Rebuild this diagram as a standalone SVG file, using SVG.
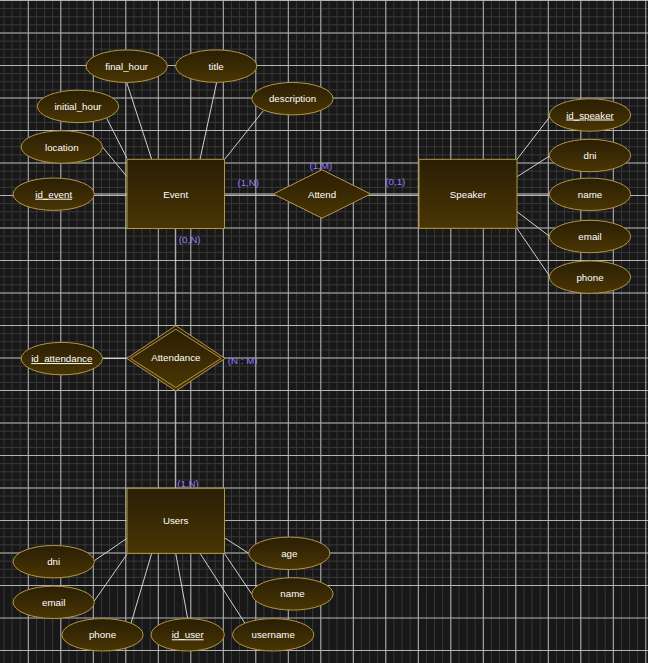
<svg xmlns="http://www.w3.org/2000/svg" width="648" height="663" viewBox="0 0 648 663">
<defs>
<linearGradient id="g" x1="0" y1="0" x2="0" y2="1">
<stop offset="0" stop-color="#2a1e04"/>
<stop offset="1" stop-color="#4a3604"/>
</linearGradient>
<style>
.sh{fill:url(#g);stroke:#b39545;stroke-width:1}
.t{font-family:"Liberation Sans",Arial,sans-serif;font-size:9.75px;fill:#ffffff;text-anchor:middle}
.u{text-decoration:underline}
.c{font-family:"Liberation Sans",Arial,sans-serif;font-size:9.75px;fill:#9b7bff;text-anchor:middle}
.e{stroke:#d0d0d0;stroke-width:1;fill:none}
</style>
</defs>
<rect width="648" height="663" fill="#181818"/>
<g id="grid" fill="none">
<path stroke="#383838" stroke-width="1" d="M3.925 0v663m8.125-663v663m8.125-663v663m8.125-663v663m8.125-663v663m8.125-663v663m8.125-663v663m8.125-663v663m8.125-663v663m8.125-663v663m8.125-663v663m8.125-663v663m8.125-663v663m8.125-663v663m8.125-663v663m8.125-663v663m8.125-663v663m8.125-663v663m8.125-663v663m8.125-663v663m8.125-663v663m8.125-663v663m8.125-663v663m8.125-663v663m8.125-663v663m8.125-663v663m8.125-663v663m8.125-663v663m8.125-663v663m8.125-663v663m8.125-663v663m8.125-663v663m8.125-663v663m8.125-663v663m8.125-663v663m8.125-663v663m8.125-663v663m8.125-663v663m8.125-663v663m8.125-663v663m8.125-663v663m8.125-663v663m8.125-663v663m8.125-663v663m8.125-663v663m8.125-663v663m8.125-663v663m8.125-663v663m8.125-663v663m8.125-663v663m8.125-663v663m8.125-663v663m8.125-663v663m8.125-663v663m8.125-663v663m8.125-663v663m8.125-663v663m8.125-663v663m8.125-663v663m8.125-663v663m8.125-663v663m8.125-663v663m8.125-663v663m8.125-663v663m8.125-663v663m8.125-663v663m8.125-663v663m8.125-663v663m8.125-663v663m8.125-663v663m8.125-663v663m8.125-663v663m8.125-663v663m8.125-663v663m8.125-663v663m8.125-663v663m8.125-663v663m8.125-663v663m8.125-663v663M0 0.5h648m-648 8.125h648m-648 8.125h648m-648 8.125h648m-648 8.125h648m-648 8.125h648m-648 8.125h648m-648 8.125h648m-648 8.125h648m-648 8.125h648m-648 8.125h648m-648 8.125h648m-648 8.125h648m-648 8.125h648m-648 8.125h648m-648 8.125h648m-648 8.125h648m-648 8.125h648m-648 8.125h648m-648 8.125h648m-648 8.125h648m-648 8.125h648m-648 8.125h648m-648 8.125h648m-648 8.125h648m-648 8.125h648m-648 8.125h648m-648 8.125h648m-648 8.125h648m-648 8.125h648m-648 8.125h648m-648 8.125h648m-648 8.125h648m-648 8.125h648m-648 8.125h648m-648 8.125h648m-648 8.125h648m-648 8.125h648m-648 8.125h648m-648 8.125h648m-648 8.125h648m-648 8.125h648m-648 8.125h648m-648 8.125h648m-648 8.125h648m-648 8.125h648m-648 8.125h648m-648 8.125h648m-648 8.125h648m-648 8.125h648m-648 8.125h648m-648 8.125h648m-648 8.125h648m-648 8.125h648m-648 8.125h648m-648 8.125h648m-648 8.125h648m-648 8.125h648m-648 8.125h648m-648 8.125h648m-648 8.125h648m-648 8.125h648m-648 8.125h648m-648 8.125h648m-648 8.125h648m-648 8.125h648m-648 8.125h648m-648 8.125h648m-648 8.125h648m-648 8.125h648m-648 8.125h648m-648 8.125h648m-648 8.125h648"/>
<path stroke="#b4b4b4" stroke-width="1" d="M28.3 0v663m32.5-663v663m32.5-663v663m32.5-663v663m32.5-663v663m32.5-663v663m32.5-663v663m32.5-663v663m32.5-663v663m32.5-663v663m32.5-663v663m32.5-663v663m32.5-663v663m32.5-663v663m32.5-663v663m32.5-663v663m32.5-663v663m32.5-663v663m32.5-663v663m32.5-663v663M0 0.5h648m-648 32.5h648m-648 32.5h648m-648 32.5h648m-648 32.5h648m-648 32.5h648m-648 32.5h648m-648 32.5h648m-648 32.5h648m-648 32.5h648m-648 32.5h648m-648 32.5h648m-648 32.5h648m-648 32.5h648m-648 32.5h648m-648 32.5h648m-648 32.5h648m-648 32.5h648m-648 32.5h648m-648 32.5h648m-648 32.5h648"/>
</g>
<g id="connectors">
<path class="e" d="M126.7 82.4L151.7 159.3"/>
<path class="e" d="M216.7 82.3L200 159.3"/>
<path class="e" d="M263.3 110.7L224.5 159.5"/>
<path class="e" d="M106.7 118.3L127 158.3"/>
<path class="e" d="M102.7 147.3L127 176.7"/>
<path class="e" d="M94.3 194L127 194"/>
<path class="e" d="M224.5 194L273.3 194"/>
<path class="e" d="M370.7 194L419 194"/>
<path class="e" d="M517 159.3L550 116.5"/>
<path class="e" d="M517 176.7L550 155.7"/>
<path class="e" d="M517 194L549.4 194"/>
<path class="e" d="M517 211.7L550 236.7"/>
<path class="e" d="M517 228.3L550 276.7"/>
<path class="e" d="M175.7 228.5L175.7 325.7"/>
<path class="e" d="M175.7 391L175.7 488.3"/>
<path class="e" d="M102.4 358.5L126.7 358.5"/>
<path class="e" d="M127 538.3L94.3 560.7"/>
<path class="e" d="M127 554.3L94.3 601"/>
<path class="e" d="M151.7 553.3L131 623.3"/>
<path class="e" d="M175.7 553.3L187.7 618.6"/>
<path class="e" d="M200 553.3L245 623.3"/>
<path class="e" d="M224.3 553.3L251.7 594"/>
<path class="e" d="M224.3 537.7L248.7 553.3"/>
<text class="c" x="248.3" y="185.5">(1,N)</text>
<text class="c" x="320.8" y="168.5">(1,M)</text>
<text class="c" x="395.3" y="185.2">(0,1)</text>
<text class="c" x="189.7" y="242.5">(0,N)</text>
<text class="c" x="242.7" y="363.5">(N : M)</text>
<text class="c" x="188" y="486.8">(1,N)</text>
</g>
<g id="event"><rect class="sh" x="127" y="159.3" width="97.5" height="69.2"/><text class="t" x="175.7" y="197.5">Event</text></g>
<g id="attend"><path class="sh" d="M322 169.8L370.7 194L322 218.2L273.3 194Z"/><text class="t" x="322" y="197.5">Attend</text></g>
<g id="speaker"><rect class="sh" x="419" y="159.3" width="98" height="69"/><text class="t" x="468" y="197.5">Speaker</text></g>
<g id="attendance"><path class="sh" d="M175.8 325.7L225 358.4L175.8 391L126.7 358.4Z"/><path class="sh" d="M175.8 329.2L221.2 358.4L175.8 387.5L130.5 358.4Z"/><text class="t" x="175.8" y="361.3">Attendance</text></g>
<g id="users"><rect class="sh" x="127" y="488.3" width="97.5" height="65"/><text class="t" x="175.7" y="524.2">Users</text></g>
<g id="final_hour"><ellipse class="sh" cx="126.7" cy="66.2" rx="40.6" ry="16.2"/><text class="t" x="126.7" y="69.7">final_hour</text></g>
<g id="title"><ellipse class="sh" cx="216.2" cy="66.1" rx="40.6" ry="16.2"/><text class="t" x="216.2" y="69.6">title</text></g>
<g id="description"><ellipse class="sh" cx="292.5" cy="98.7" rx="40.6" ry="16.2"/><text class="t" x="292.5" y="102.2">description</text></g>
<g id="initial_hour"><ellipse class="sh" cx="78" cy="106.4" rx="40.6" ry="16.2"/><text class="t" x="78" y="109.9">initial_hour</text></g>
<g id="location"><ellipse class="sh" cx="61.8" cy="147" rx="40.6" ry="16.2"/><text class="t" x="61.8" y="150.5">location</text></g>
<g id="id_event"><ellipse class="sh" cx="53.7" cy="194.2" rx="40.6" ry="16.2"/><text class="t u" x="53.7" y="197.7">id_event</text></g>
<g id="id_speaker"><ellipse class="sh" cx="590" cy="115" rx="40.6" ry="16.2"/><text class="t u" x="590" y="118.5">id_speaker</text></g>
<g id="speaker_dni"><ellipse class="sh" cx="590" cy="155.5" rx="40.6" ry="16.2"/><text class="t" x="590" y="159">dni</text></g>
<g id="speaker_name"><ellipse class="sh" cx="590" cy="194.3" rx="40.6" ry="16.2"/><text class="t" x="590" y="197.8">name</text></g>
<g id="speaker_email"><ellipse class="sh" cx="590" cy="236.5" rx="40.6" ry="16.2"/><text class="t" x="590" y="240">email</text></g>
<g id="speaker_phone"><ellipse class="sh" cx="590" cy="277.1" rx="40.6" ry="16.2"/><text class="t" x="590" y="280.6">phone</text></g>
<g id="id_attendance"><ellipse class="sh" cx="61.8" cy="358.6" rx="40.6" ry="16.2"/><text class="t u" x="61.8" y="362.1">id_attendance</text></g>
<g id="user_dni"><ellipse class="sh" cx="53.7" cy="561.7" rx="40.6" ry="16.2"/><text class="t" x="53.7" y="565.2">dni</text></g>
<g id="user_email"><ellipse class="sh" cx="53.7" cy="602.3" rx="40.6" ry="16.2"/><text class="t" x="53.7" y="605.8">email</text></g>
<g id="user_phone"><ellipse class="sh" cx="102.5" cy="634.8" rx="40.6" ry="16.2"/><text class="t" x="102.5" y="638.3">phone</text></g>
<g id="id_user"><ellipse class="sh" cx="187.7" cy="634.8" rx="36.6" ry="16.2"/><text class="t u" x="187.7" y="638.3">id_user</text></g>
<g id="username"><ellipse class="sh" cx="273.2" cy="634.8" rx="40.6" ry="16.2"/><text class="t" x="273.2" y="638.3">username</text></g>
<g id="age"><ellipse class="sh" cx="289.3" cy="553.3" rx="40.6" ry="16.2"/><text class="t" x="289.3" y="556.8">age</text></g>
<g id="user_name"><ellipse class="sh" cx="292.5" cy="593.9" rx="40.6" ry="16.2"/><text class="t" x="292.5" y="597.4">name</text></g>
</svg>
